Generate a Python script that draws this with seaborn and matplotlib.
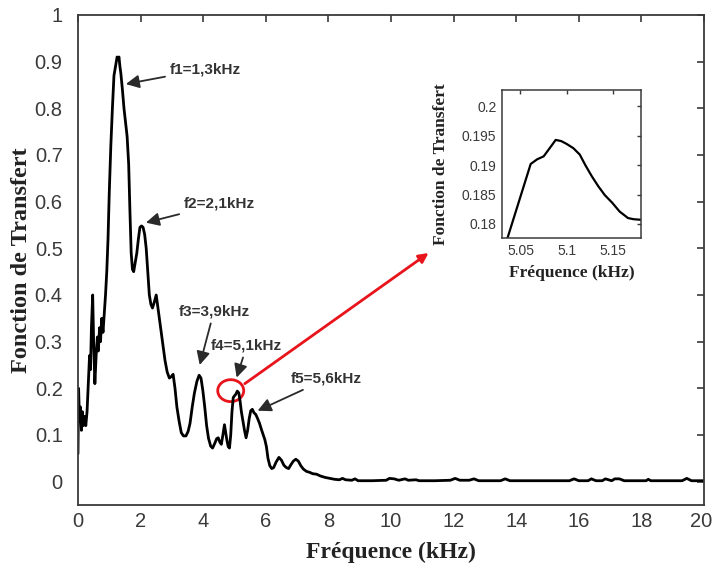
import numpy as np
import pandas as pd
import matplotlib
matplotlib.use("Agg")
import matplotlib.pyplot as plt
import matplotlib.transforms as mtransforms
from matplotlib.patches import Ellipse
import seaborn as sns

# ---------------- data ----------------
freq_khz = [0.00, 0.02, 0.05, 0.08, 0.11, 0.14, 0.17, 0.21, 0.25, 0.29, 0.33, 0.37, 0.40, 0.43, 0.47,
            0.50, 0.54, 0.58, 0.62, 0.65, 0.69, 0.72, 0.76, 0.80, 0.84, 0.88, 0.92, 0.96, 1.00, 1.05,
            1.10, 1.15, 1.20, 1.25, 1.28, 1.31, 1.34, 1.37, 1.42, 1.47, 1.52, 1.57, 1.62, 1.66, 1.70,
            1.74, 1.78, 1.83, 1.88, 1.93, 1.98, 2.03, 2.08, 2.13, 2.18, 2.23, 2.28, 2.33, 2.38, 2.44,
            2.50, 2.56, 2.62, 2.70, 2.78, 2.85, 2.92, 2.98, 3.04, 3.10, 3.16, 3.23, 3.30, 3.37, 3.45,
            3.52, 3.58, 3.65, 3.72, 3.80, 3.87, 3.93, 3.99, 4.05, 4.11, 4.17, 4.24, 4.30, 4.37, 4.43,
            4.48, 4.53, 4.58, 4.63, 4.68, 4.72, 4.76, 4.80, 4.84, 4.88, 4.92, 4.96, 5.00, 5.04, 5.09,
            5.14, 5.18, 5.22, 5.27, 5.32, 5.37, 5.42, 5.47, 5.52, 5.57, 5.62, 5.68, 5.74, 5.80, 5.86,
            5.92, 5.97, 6.02, 6.07, 6.13, 6.19, 6.25, 6.33, 6.42, 6.50, 6.58, 6.66, 6.73, 6.80, 6.88,
            6.96, 7.04, 7.12, 7.20, 7.30, 7.40, 7.50, 7.62, 7.75, 7.90, 8.05, 8.20, 8.35, 8.45, 8.55,
            8.75, 8.85, 8.95, 9.40, 9.85, 9.95, 10.10, 10.25, 10.45, 10.55, 10.80, 10.90, 11.40, 11.90,
            12.05, 12.20, 12.50, 12.65, 12.80, 13.50, 13.65, 13.80, 15.70, 15.85, 16.00, 16.30, 16.40,
            16.55, 16.75, 16.85, 17.05, 17.15, 17.30, 17.45, 18.15, 18.22, 18.30, 19.30, 19.45, 19.60,
            20.00]
transfer = [0.060, 0.200, 0.130, 0.160, 0.110, 0.150, 0.120, 0.140, 0.120, 0.150, 0.210, 0.270, 0.240, 0.330, 0.400,
            0.300, 0.210, 0.270, 0.310, 0.280, 0.330, 0.300, 0.350, 0.320, 0.360, 0.400, 0.450, 0.520, 0.620, 0.720,
            0.800, 0.870, 0.890, 0.910, 0.905, 0.910, 0.890, 0.875, 0.840, 0.800, 0.770, 0.740, 0.680, 0.580, 0.490,
            0.455, 0.450, 0.470, 0.490, 0.520, 0.545, 0.548, 0.545, 0.530, 0.500, 0.450, 0.400, 0.380, 0.372, 0.385,
            0.400, 0.370, 0.340, 0.300, 0.260, 0.235, 0.222, 0.225, 0.230, 0.200, 0.160, 0.130, 0.105, 0.098, 0.098,
            0.108, 0.125, 0.160, 0.190, 0.215, 0.228, 0.222, 0.195, 0.160, 0.120, 0.093, 0.076, 0.072, 0.082, 0.092,
            0.094, 0.085, 0.080, 0.100, 0.122, 0.105, 0.088, 0.075, 0.072, 0.100, 0.150, 0.180, 0.184, 0.187, 0.194,
            0.190, 0.172, 0.150, 0.130, 0.110, 0.094, 0.110, 0.135, 0.152, 0.155, 0.148, 0.144, 0.135, 0.125, 0.112,
            0.100, 0.090, 0.075, 0.050, 0.034, 0.028, 0.030, 0.042, 0.052, 0.046, 0.035, 0.030, 0.028, 0.036, 0.044,
            0.048, 0.044, 0.034, 0.027, 0.022, 0.020, 0.017, 0.016, 0.012, 0.009, 0.007, 0.005, 0.004, 0.007, 0.004,
            0.003, 0.006, 0.002, 0.002, 0.003, 0.007, 0.006, 0.003, 0.006, 0.003, 0.004, 0.002, 0.002, 0.003,
            0.007, 0.003, 0.003, 0.006, 0.002, 0.002, 0.006, 0.002, 0.002, 0.006, 0.002, 0.002, 0.006,
            0.002, 0.002, 0.006, 0.002, 0.006, 0.006, 0.002, 0.002, 0.005, 0.002, 0.002, 0.007, 0.002,
            0.002]

zoom_freq = [5.030, 5.036, 5.061, 5.068, 5.075, 5.082, 5.088, 5.094, 5.100, 5.107, 5.114,
             5.120, 5.127, 5.134, 5.141, 5.149, 5.157, 5.166, 5.172, 5.180]
zoom_transfer = [0.1762, 0.1776, 0.1902, 0.1910, 0.1915, 0.1930, 0.1943, 0.1941, 0.1936, 0.1929, 0.1918,
                 0.1900, 0.1881, 0.1864, 0.1849, 0.1836, 0.1821, 0.1810, 0.1808, 0.1807]

x_ticks = [0, 2, 4, 6, 8, 10, 12, 14, 16, 18, 20]
y_ticks = [0, 0.1, 0.2, 0.3, 0.4, 0.5, 0.6, 0.7, 0.8, 0.9, 1]
y_tick_labels = ["0", "0.1", "0.2", "0.3", "0.4", "0.5", "0.6", "0.7", "0.8", "0.9", "1"]
zoom_x_ticks = [5.05, 5.1, 5.15]
zoom_x_labels = ["5.05", "5.1", "5.15"]
zoom_y_ticks = [0.18, 0.185, 0.19, 0.195, 0.2]
zoom_y_labels = ["0.18", "0.185", "0.19", "0.195", "0.2"]

peak_labels = ["f1=1,3kHz", "f2=2,1kHz", "f3=3,9kHz", "f4=5,1kHz", "f5=5,6kHz"]

df_main = pd.DataFrame({"f": freq_khz, "h": transfer})
df_zoom = pd.DataFrame({"f": zoom_freq, "h": zoom_transfer})

# ---------------- style ----------------
sns.set_style("white")
plt.rcParams["font.family"] = ["Liberation Sans", "DejaVu Sans"]
plt.rcParams["axes.linewidth"] = 1.3
plt.rcParams["axes.edgecolor"] = "#3a3a3a"

fig = plt.figure(figsize=(7.14, 5.66), dpi=100)
fig.patch.set_facecolor("white")
ax = fig.add_axes([0.1092, 0.1078, 0.8768, 0.8657])

sns.lineplot(data=df_main, x="f", y="h", ax=ax, color="black", linewidth=2.0,
             sort=False, estimator=None)

ax.set_xlim(0, 20)
ax.set_ylim(-0.05, 1.0)
ax.set_xticks(x_ticks)
ax.set_xticklabels([str(t) for t in x_ticks])
ax.set_yticks(y_ticks)
ax.set_yticklabels(y_tick_labels)
ax.tick_params(direction="in", length=5, width=1.2, color="#3a3a3a",
               top=True, right=True, labelsize=14.5, labelcolor="#3a3a3a")
ax.tick_params(axis="y", pad=11)
ax.tick_params(axis="x", pad=5)

# keep the last x tick label ("20") inside the picture
last_lbl = ax.get_xticklabels()[-1]
last_lbl.set_transform(last_lbl.get_transform() +
                       mtransforms.ScaledTranslation(-3 / 100, 0, fig.dpi_scale_trans))

serif = ["Liberation Serif", "DejaVu Serif"]
ax.set_xlabel("Fréquence (kHz)", family=serif, fontweight="bold", fontsize=17,
              color="#222222", labelpad=8)
ax.set_ylabel("Fonction de Transfert", family=serif, fontweight="bold", fontsize=17.5,
              color="#222222", labelpad=2)

# peak annotations
ann_color = "#333333"
ann_kw = dict(fontsize=11, fontweight="bold", color=ann_color)
arrow_kw = dict(arrowstyle="-|>", color="#2a2a2a", lw=1.3, mutation_scale=20, shrinkA=1, shrinkB=0)
ax.annotate(peak_labels[0], xy=(1.53, 0.852), xytext=(2.93, 0.884), ha="left", va="center",
            arrowprops=arrow_kw, **ann_kw)
ax.annotate(peak_labels[1], xy=(2.17, 0.555), xytext=(3.38, 0.595), ha="left", va="center",
            arrowprops=arrow_kw, **ann_kw)
ax.annotate(peak_labels[2], xy=(3.89, 0.25), xytext=(4.34, 0.364), ha="center", va="center",
            arrowprops=arrow_kw, **ann_kw)
ax.annotate(peak_labels[3], xy=(5.07, 0.223), xytext=(5.39, 0.291), ha="center", va="center",
            arrowprops=arrow_kw, **ann_kw)
ax.annotate(peak_labels[4], xy=(5.74, 0.152), xytext=(7.94, 0.22), ha="center", va="center",
            arrowprops=arrow_kw, **ann_kw)

# red circle and red arrow to the zoom
ax.add_patch(Ellipse((4.88, 0.195), 0.83, 0.047, fill=False, edgecolor="#e8141b", lw=2.0))
ax.annotate("", xy=(11.2, 0.49), xytext=(5.33, 0.21),
            arrowprops=dict(arrowstyle="-|>", color="#e8141b", lw=2.0, mutation_scale=14,
                            shrinkA=0, shrinkB=0))

# ---------------- inset ----------------
axin = fig.add_axes([0.703, 0.5795, 0.1947, 0.2615])
sns.lineplot(data=df_zoom, x="f", y="h", ax=axin, color="black", linewidth=1.6,
             sort=False, estimator=None)
axin.set_xlim(5.03, 5.18)
axin.set_ylim(0.1776, 0.2028)
axin.set_xticks(zoom_x_ticks)
axin.set_xticklabels(zoom_x_labels)
axin.set_yticks(zoom_y_ticks)
axin.set_yticklabels(zoom_y_labels)
axin.tick_params(direction="in", length=3, width=1.0, color="#3a3a3a",
                 top=True, right=True, labelsize=10, labelcolor="#3a3a3a", pad=4)
for s in axin.spines.values():
    s.set_linewidth(1.1)
axin.set_xlabel("Fréquence (kHz)", family=serif, fontweight="bold", fontsize=12.5,
                color="#222222", labelpad=5)
axin.set_ylabel("Fonction de Transfert", family=serif, fontweight="bold", fontsize=12.5,
                color="#222222", labelpad=9)

fig.savefig("out.png", dpi=100, facecolor="white")
